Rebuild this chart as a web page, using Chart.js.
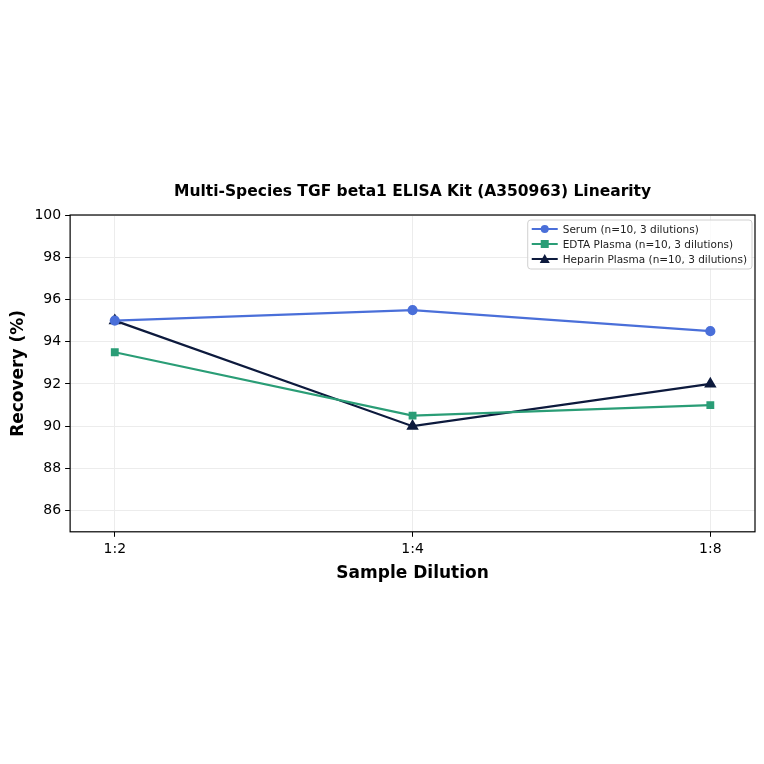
<!DOCTYPE html>
<html lang="en">
<head>
    <meta charset="UTF-8">
    <title>TGF beta1 ELISA Linearity</title>
    <style>
        body { margin: 0; padding: 0; background: #fff; }
        .chart-container { width: 764px; height: 764px; position: relative; }
    </style>
    <script src="https://cdn.jsdelivr.net/npm/chart.js"></script>
</head>
<body>
    <div class="chart-container">
        <canvas id="myChart"></canvas>
    </div>
    <script>
        // Données
        const dilutions = ['1:2', '1:4', '1:8'];
        const serum = [95.0, 95.5, 94.5];
        const edtaPlasma = [93.5, 90.5, 91.0];
        const heparinPlasma = [95.0, 90.0, 92.0];
        const yTicks = [86, 88, 90, 92, 94, 96, 98, 100];
        const chartTitle = 'Multi-Species TGF beta1 ELISA Kit (A350963) Linearity';

        const FONT = "'DejaVu Sans', sans-serif";

        function toPoints(values) {
            return values.map((v, i) => ({ x: i, y: v }));
        }

        // Cadre noir autour de la zone de tracé + titre centré sur la zone
        const frame = {
            id: 'frame',
            afterDraw(chart) {
                const { ctx, chartArea: a } = chart;
                ctx.save();
                ctx.strokeStyle = '#000';
                ctx.lineWidth = 1.2;
                ctx.strokeRect(a.left, a.top, a.right - a.left, a.bottom - a.top);
                ctx.fillStyle = '#000';
                ctx.font = 'bold 15.5px ' + FONT;
                ctx.textAlign = 'center';
                ctx.textBaseline = 'middle';
                ctx.fillText(chartTitle, (a.left + a.right) / 2, a.top - 23);
                ctx.restore();
            }
        };

        // Légende dessinée dans le coin haut droit
        const insideLegend = {
            id: 'insideLegend',
            afterDraw(chart) {
                const { ctx, chartArea: a } = chart;
                const sets = chart.data.datasets;
                ctx.save();
                ctx.font = '10.5px ' + FONT;
                const textW = Math.max(...sets.map(d => ctx.measureText(d.label).width));
                const w = textW + 40, h = sets.length * 15 + 4;
                const x = a.right - w - 3, y = a.top + 5;
                ctx.fillStyle = 'rgba(255,255,255,0.8)';
                ctx.strokeStyle = '#d0d0d0';
                ctx.lineWidth = 1;
                ctx.beginPath();
                ctx.roundRect(x, y, w, h, 3);
                ctx.fill();
                ctx.stroke();
                sets.forEach((d, i) => {
                    const cy = y + 9 + i * 15;
                    ctx.strokeStyle = d.borderColor;
                    ctx.lineWidth = 2;
                    ctx.beginPath();
                    ctx.moveTo(x + 4, cy);
                    ctx.lineTo(x + 30, cy);
                    ctx.stroke();
                    ctx.fillStyle = d.borderColor;
                    ctx.beginPath();
                    if (d.pointStyle === 'rect') {
                        ctx.rect(x + 13, cy - 4, 8, 8);
                    } else if (d.pointStyle === 'triangle') {
                        ctx.moveTo(x + 17, cy - 5);
                        ctx.lineTo(x + 22, cy + 4);
                        ctx.lineTo(x + 12, cy + 4);
                        ctx.closePath();
                    } else {
                        ctx.arc(x + 17, cy, 4, 0, Math.PI * 2);
                    }
                    ctx.fill();
                    ctx.fillStyle = '#222';
                    ctx.textBaseline = 'middle';
                    ctx.fillText(d.label, x + 35, cy + 1);
                });
                ctx.restore();
            }
        };

        const ctx = document.getElementById('myChart').getContext('2d');
        const myChart = new Chart(ctx, {
            type: 'line',
            data: {
                datasets: [{
                    label: 'Serum (n=10, 3 dilutions)',
                    data: toPoints(serum),
                    borderColor: '#4a6fd9',
                    backgroundColor: '#4a6fd9',
                    pointStyle: 'circle',
                    pointRadius: 4,
                    borderWidth: 2.2
                }, {
                    label: 'EDTA Plasma (n=10, 3 dilutions)',
                    data: toPoints(edtaPlasma),
                    borderColor: '#2a9d76',
                    backgroundColor: '#2a9d76',
                    pointStyle: 'rect',
                    pointRadius: 4,
                    borderWidth: 2.2
                }, {
                    label: 'Heparin Plasma (n=10, 3 dilutions)',
                    data: toPoints(heparinPlasma),
                    borderColor: '#0d1a3d',
                    backgroundColor: '#0d1a3d',
                    pointStyle: 'triangle',
                    pointRadius: 5,
                    borderWidth: 2.2
                }]
            },
            options: {
                responsive: true,
                maintainAspectRatio: false,
                animation: false,
                layout: { padding: { top: 215, bottom: 176, left: 4, right: 9 } },
                plugins: {
                    legend: { display: false },
                    tooltip: { enabled: false },
                    title: { display: false }
                },
                scales: {
                    x: {
                        type: 'linear',
                        min: -0.15,
                        max: 2.15,
                        afterBuildTicks: axis => { axis.ticks = dilutions.map((_, i) => ({ value: i })); },
                        ticks: {
                            color: '#000',
                            font: { family: FONT, size: 14 },
                            callback: v => dilutions[v],
                            padding: 4
                        },
                        grid: { color: '#ececec', tickColor: '#000', tickLength: 5 },
                        border: { display: false },
                        title: {
                            display: true,
                            text: 'Sample Dilution',
                            color: '#000',
                            font: { family: FONT, size: 17, weight: 'bold' },
                            padding: { top: 2 }
                        }
                    },
                    y: {
                        min: 85,
                        max: 100,
                        afterBuildTicks: axis => { axis.ticks = yTicks.map(v => ({ value: v })); },
                        ticks: {
                            color: '#000',
                            font: { family: FONT, size: 14 },
                            padding: 4
                        },
                        grid: { color: '#ececec', tickColor: '#000', tickLength: 5 },
                        border: { display: false },
                        title: {
                            display: true,
                            text: 'Recovery (%)',
                            color: '#000',
                            font: { family: FONT, size: 17, weight: 'bold' },
                            padding: { bottom: 2 }
                        }
                    }
                }
            },
            plugins: [frame, insideLegend]
        });
    </script>
</body>
</html>
